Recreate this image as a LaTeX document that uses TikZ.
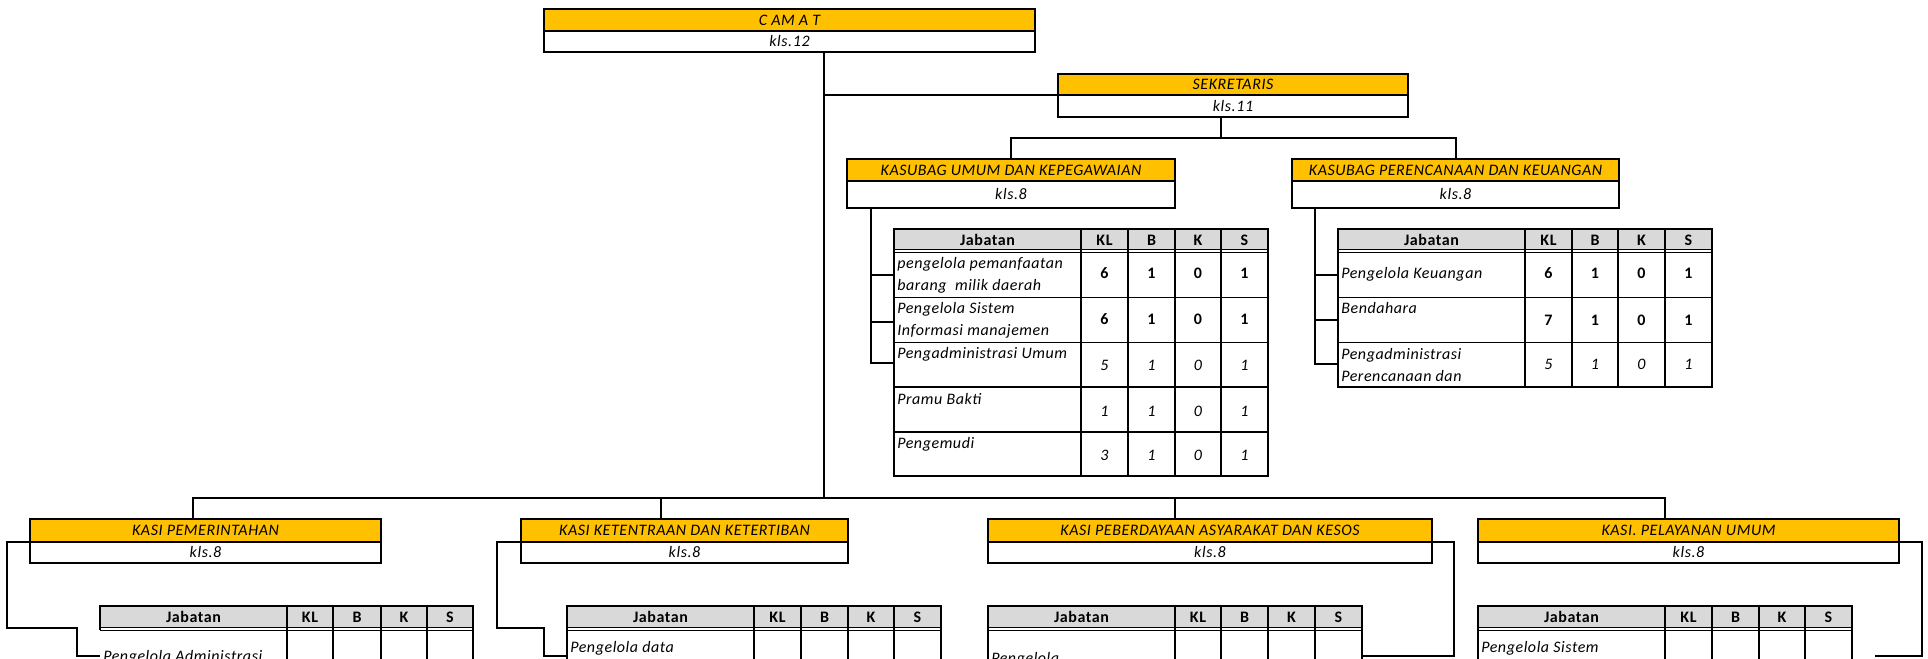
\documentclass[tikz,border=0pt]{standalone}
\usepackage{fontspec}
\setmainfont{Carlito}[LetterSpace=3.5]
\definecolor{boxorange}{HTML}{FFC000}
\definecolor{headgray}{HTML}{D9D9D9}
\newcommand\fs{\fontsize{12pt}{16.5pt}\selectfont}
\tikzset{
 thickln/.style={line width=1.5pt, line cap=rect},
 thinln/.style={line width=0.75pt},
 conn/.style={line width=1.5pt, line join=miter},
 titlebox/.style={draw, line width=1.5pt, fill=boxorange, inner sep=0pt, outer sep=0pt, anchor=north west, font=\fs\itshape},
 klsbox/.style={titlebox, fill=white},
 headtxt/.style={inner sep=0pt, anchor=base, font=\fs\bfseries},
 celltxt/.style={inner sep=0pt, anchor=base west, font=\fs\itshape},
 numb/.style={inner sep=0pt, anchor=base, font=\fs\bfseries},
 numi/.style={inner sep=0pt, anchor=base, font=\fs\itshape},
}
\newcommand\orgbox[8]{%
 \node[titlebox, minimum width={(#5-#2)*0.75pt}, minimum height={(#4-#3)*0.75pt}] (#1) at (#2,#3) {#7};
 \node[klsbox, minimum width={(#5-#2)*0.75pt}, minimum height={(#6-#4)*0.75pt}] (#1k) at (#2,#4) {#8};}
\newcommand\settab[6]{\def\cA{#1}\def\cB{#2}\def\cC{#3}\def\cD{#4}\def\cE{#5}\def\cF{#6}}
\newcommand\thead[2]{%
 \fill[headgray] (\cA,#2) rectangle (\cF,#2+21);
 \draw[thickln] (\cA,#2) -- (\cF,#2);
 \draw[thinln] (\cA,#2+21) -- (\cF,#2+21) (\cA,#2+24) -- (\cF,#2+24);
 \node[headtxt] (#1-jab) at ({(\cA+\cB)/2},#2+16.5) {Jabatan};
 \node[headtxt] (#1-kl) at ({(\cB+\cC)/2},#2+16.5) {KL};
 \node[headtxt] (#1-b) at ({(\cC+\cD)/2},#2+16.5) {B};
 \node[headtxt] (#1-k) at ({(\cD+\cE)/2},#2+16.5) {K};
 \node[headtxt] (#1-s) at ({(\cE+\cF)/2},#2+16.5) {S};}
\newcommand\tcols[2]{%
 \foreach \xx in {\cA,\cB,\cC,\cD,\cE,\cF} {\draw[thickln] (\xx,#1) -- (\xx,#2);}}
\newcommand\tnums[7]{%
 \node[#3] (#1-kl) at ({(\cB+\cC)/2},#2) {#4};
 \node[#3] (#1-b) at ({(\cC+\cD)/2},#2) {#5};
 \node[#3] (#1-k) at ({(\cD+\cE)/2},#2) {#6};
 \node[#3] (#1-s) at ({(\cE+\cF)/2},#2) {#7};}
\newcommand\ttext[3]{\node[celltxt] (#1) at (\cA+3,#2) {#3};}
\begin{document}
\begin{tikzpicture}[x=0.75pt,y=-0.75pt]
\path[use as bounding box] (0,0) rectangle (1928,659);
\clip (0,0) rectangle (1928,659);

% ---------- boxes ----------
\orgbox{camat}{544}{9}{31}{1035}{52}{C AM A T}{kls.12}
\orgbox{sek}{1058}{74}{95}{1408}{117}{SEKRETARIS}{kls.11}
\orgbox{kum}{847}{159}{181}{1175}{208}{KASUBAG UMUM DAN KEPEGAWAIAN}{kls.8}
\orgbox{kper}{1292}{159}{181}{1619}{208}{KASUBAG PERENCANAAN DAN KEUANGAN}{kls.8}
\orgbox{kpem}{30}{519}{542}{381}{563}{KASI PEMERINTAHAN}{kls.8}
\orgbox{ktib}{521}{519}{542}{848}{563}{KASI KETENTRAAN DAN KETERTIBAN}{kls.8}
\orgbox{kpmd}{988}{519}{542}{1432}{563}{KASI PEBERDAYAAN ASYARAKAT DAN KESOS}{kls.8}
\orgbox{kpel}{1478}{519}{542}{1899}{563}{KASI. PELAYANAN UMUM}{kls.8}

% ---------- main connectors ----------
\coordinate (trunk) at (824,498);
\coordinate (b1) at (193,498);
\coordinate (b2) at (661,498);
\coordinate (b3) at (1175,498);
\coordinate (b4) at (1665,498);
\coordinate (sekdrop) at (1221,138);
\draw[conn] (camatk.south -| trunk) -- (trunk);
\draw[conn] (sek.south west -| trunk) -- (sek.south west);
\draw[conn] (sekk.south -| sekdrop) -- (sekdrop);
\draw[conn] (kum.north) -- (kum.north |- sekdrop) -- (kper.north |- sekdrop) -- (kper.north);
\draw[conn] (b1 |- kpem.north) -- (b1) -- (b4) -- (b4 |- kpel.north);
\draw[conn] (b2) -- (b2 |- ktib.north);
\draw[conn] (b3) -- (b3 |- kpmd.north);

% ---------- table: umum ----------
\settab{894}{1081}{1128}{1175}{1221}{1268}
\thead{tum}{229}
\tcols{229}{476}
\draw[thinln] (\cA,298) -- (\cF,298) (\cA,343) -- (\cF,343);
\draw[thickln] (\cA,387) -- (\cF,387) (\cA,432) -- (\cF,432) (\cA,476) -- (\cF,476);
\ttext{um1a}{269}{pengelola pemanfaatan}
\ttext{um1b}{291}{barang\ \ milik daerah}
\tnums{um1n}{279}{numb}{6}{1}{0}{1}
\ttext{um2a}{313.5}{Pengelola Sistem}
\ttext{um2b}{335.5}{Informasi manajemen}
\tnums{um2n}{325}{numb}{6}{1}{0}{1}
\ttext{um3a}{358.7}{Pengadministrasi Umum}
\tnums{um3n}{370.5}{numi}{5}{1}{0}{1}
\ttext{um4a}{404.7}{Pramu Bakti}
\tnums{um4n}{416}{numi}{1}{1}{0}{1}
\ttext{um5a}{448.7}{Pengemudi}
\tnums{um5n}{460}{numi}{3}{1}{0}{1}
\coordinate (umv) at (871,363);
\coordinate (um1) at (894,275);
\coordinate (um2) at (894,322);
\coordinate (um3) at (894,363);
\draw[conn] (kumk.south -| umv) -- (umv) -- (um3);
\draw[conn] (um1 -| umv) -- (um1);
\draw[conn] (um2 -| umv) -- (um2);

% ---------- table: perencanaan ----------
\settab{1338}{1525}{1572}{1618}{1665}{1712}
\thead{tpr}{229}
\tcols{229}{387}
\draw[thinln] (\cA,298) -- (\cF,298) (\cA,343) -- (\cF,343);
\draw[thickln] (\cA,387) -- (\cF,387);
\ttext{pr1a}{279}{Pengelola Keuangan}
\tnums{pr1n}{279}{numb}{6}{1}{0}{1}
\ttext{pr2a}{314}{Bendahara}
\tnums{pr2n}{325.5}{numb}{7}{1}{0}{1}
\ttext{pr3a}{359}{Pengadministrasi}
\ttext{pr3b}{381.5}{Perencanaan dan}
\tnums{pr3n}{369.3}{numi}{5}{1}{0}{1}
\coordinate (pv) at (1315,364);
\coordinate (pr1) at (1338,275);
\coordinate (pr2) at (1338,320);
\coordinate (pr3) at (1338,364);
\draw[conn] (kperk.south -| pv) -- (pv) -- (pr3);
\draw[conn] (pr1 -| pv) -- (pr1);
\draw[conn] (pr2 -| pv) -- (pr2);

% ---------- table: pemerintahan ----------
\settab{100}{287}{333}{381}{427}{473}
\thead{tpm}{606}
\draw[thickln] (\cA,606) -- (\cA,629);
\foreach \xx in {\cB,\cC,\cD,\cE,\cF} {\draw[thickln] (\xx,606) -- (\xx,672);}
\ttext{pm1a}{661.5}{Pengelola Administrasi}
\coordinate (pm1) at (100,656);
\draw[conn] (kpem.south west) -- ++(-23,0) -- ++(0,86) -- ++(70,0) |- (pm1);

% ---------- table: ketentraan ----------
\settab{567}{754}{801}{848}{894}{941}
\thead{ttb}{606}
\tcols{606}{672}
\ttext{tb1a}{652.7}{Pengelola data}
\coordinate (tb1) at (567,656);
\draw[conn] (ktib.south west) -- ++(-24,0) -- ++(0,86) -- ++(47,0) |- (tb1);

% ---------- table: pemberdayaan ----------
\settab{988}{1175}{1221}{1268}{1315}{1362}
\thead{tpd}{606}
\tcols{606}{672}
\ttext{pd1a}{663}{Pengelola}
\coordinate (pd1) at (1362,656);
\draw[conn] (kpmd.south east) -- ++(22,0) |- (pd1);

% ---------- table: pelayanan ----------
\settab{1478}{1665}{1712}{1759}{1805}{1852}
\thead{tpl}{606}
\tcols{606}{672}
\ttext{pl1a}{652.7}{Pengelola Sistem}
\coordinate (pl1) at (1875,656);
\draw[conn] (kpel.south east) -- ++(23,0) |- (pl1);

\end{tikzpicture}
\end{document}
